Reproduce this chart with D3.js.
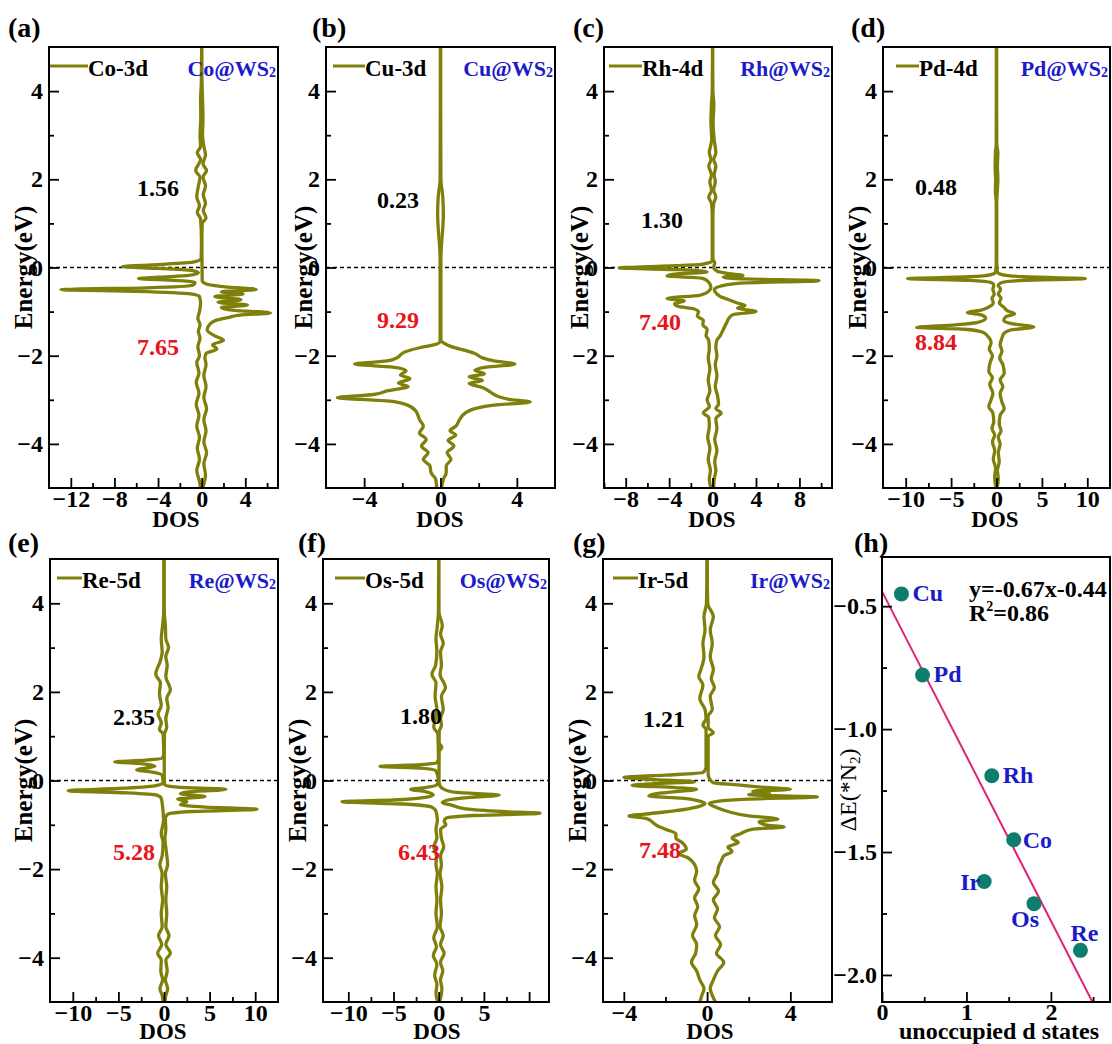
<!DOCTYPE html>
<html><head><meta charset="utf-8">
<script src="https://cdnjs.cloudflare.com/ajax/libs/d3/7.8.5/d3.min.js"></script>
<style>body{margin:0;background:#fff}</style>
</head><body>
<script>
// ---------------- DATA ----------------
const dosMetals   = ['Co','Cu','Rh','Pd','Re','Os','Ir'];
const dosOrbitals = ['Co-3d','Cu-3d','Rh-4d','Pd-4d','Re-5d','Os-5d','Ir-5d'];
const unoccupied  = ['1.56','0.23','1.30','0.48','2.35','1.80','1.21'];
const occupied    = ['7.65','9.29','7.40','8.84','5.28','6.43','7.48'];
const energyTicks = [-4,-2,0,2,4];
const energyMinor = [-3,-1,1,3];

// [Energy, DOS] (spin up drawn right, spin down drawn left)
const coUp = [[5,0],[4.2,0.03],[3.8,0.08],[3.4,0.12],[3.0,0.08],[2.75,0.2],[2.55,0.35],[2.35,0.12],[2.2,0.45],[2.05,0.12],[1.85,0.35],[1.65,0.15],[1.45,0.35],[1.3,0.15],[1.12,0.4],[1.0,0.05],[0.6,0.02],[0.2,0.03],[-0.3,0.05],[-0.38,0.5],[-0.44,2.2],[-0.5,5.0],[-0.55,1.8],[-0.6,3.8],[-0.66,1.2],[-0.73,3.6],[-0.79,1.5],[-0.85,4.2],[-0.91,1.8],[-0.97,3.0],[-1.03,6.3],[-1.08,3.5],[-1.13,2.5],[-1.2,1.3],[-1.3,0.7],[-1.42,0.5],[-1.55,1.2],[-1.65,2.0],[-1.75,1.0],[-1.85,1.4],[-1.95,0.4],[-2.05,0.3],[-2.2,0.4],[-2.45,0.2],[-2.7,0.4],[-2.95,0.2],[-3.2,0.45],[-3.45,0.2],[-3.7,0.4],[-3.95,0.2],[-4.2,0.45],[-4.45,0.2],[-4.7,0.35],[-5,0.1]];
const coDown = [[5,0],[4.2,0.03],[3.8,0.1],[3.4,0.08],[3.0,0.15],[2.75,0.1],[2.6,0.4],[2.45,0.1],[2.2,0.55],[2.05,0.15],[1.85,0.3],[1.6,0.45],[1.4,0.2],[1.25,0.4],[1.1,0.1],[0.6,0.02],[0.2,0.05],[0.12,0.8],[0.06,4.5],[0.02,7.3],[-0.02,4.0],[-0.07,0.8],[-0.12,0.3],[-0.18,1.2],[-0.22,4.0],[-0.25,5.8],[-0.29,2.5],[-0.34,0.6],[-0.4,0.8],[-0.46,5.0],[-0.5,12.9],[-0.54,6.0],[-0.6,1.0],[-0.66,0.2],[-0.8,0.1],[-1.0,0.2],[-1.15,0.35],[-1.3,0.15],[-1.45,0.3],[-1.6,0.15],[-1.8,0.35],[-2.0,0.2],[-2.15,0.45],[-2.4,0.25],[-2.6,0.5],[-2.85,0.25],[-3.1,0.5],[-3.35,0.25],[-3.6,0.45],[-3.85,0.2],[-4.1,0.4],[-4.35,0.2],[-4.6,0.45],[-4.85,0.2],[-5,0.1]];

const cuUp = [[5,0],[2,0.02],[1.6,0.12],[1.2,0.15],[0.9,0.12],[0.5,0.05],[0.2,0.02],[-1.65,0.02],[-1.72,0.2],[-1.8,0.6],[-1.88,1.3],[-1.95,1.8],[-2.05,2.2],[-2.12,2.8],[-2.19,3.9],[-2.26,2.4],[-2.33,1.8],[-2.41,2.3],[-2.48,1.5],[-2.56,2.2],[-2.63,1.5],[-2.72,2.2],[-2.82,2.6],[-2.92,3.0],[-2.99,3.6],[-3.05,4.7],[-3.12,2.8],[-3.2,1.8],[-3.3,1.3],[-3.45,1.0],[-3.6,0.8],[-3.7,0.5],[-3.8,0.8],[-3.92,0.4],[-4.05,0.7],[-4.2,0.35],[-4.35,0.55],[-4.5,0.3],[-4.65,0.3],[-4.8,0.15],[-5,0.05]];
const cuDown = [[5,0],[2,0.02],[1.6,0.12],[1.2,0.15],[0.9,0.12],[0.5,0.05],[0.2,0.02],[-1.68,0.02],[-1.75,0.3],[-1.82,1.1],[-1.92,1.9],[-2.05,2.3],[-2.12,2.8],[-2.19,4.5],[-2.26,2.5],[-2.34,1.8],[-2.44,2.1],[-2.52,1.6],[-2.62,2.2],[-2.7,1.7],[-2.8,2.8],[-2.88,3.5],[-2.95,5.4],[-3.03,2.65],[-3.11,1.8],[-3.25,1.3],[-3.45,1.1],[-3.6,0.9],[-3.75,1.1],[-3.9,0.75],[-4.05,1.0],[-4.2,0.65],[-4.35,0.9],[-4.5,0.55],[-4.65,0.5],[-4.8,0.25],[-5,0.2]];

const rhUp = [[5,0],[4.0,0.03],[3.7,0.12],[3.3,0.05],[2.9,0.15],[2.6,0.3],[2.45,0.1],[2.3,0.3],[2.1,0.15],[1.95,0.25],[1.75,0.1],[1.6,0.3],[1.45,0.1],[1.2,0.03],[0.2,0.03],[0.1,0.2],[0.0,0.1],[-0.08,0.4],[-0.14,1.5],[-0.18,2.8],[-0.22,1.0],[-0.26,3.0],[-0.3,9.8],[-0.35,3.0],[-0.42,0.8],[-0.5,0.15],[-0.6,0.4],[-0.67,0.8],[-0.73,1.5],[-0.8,2.2],[-0.86,3.0],[-0.92,2.3],[-1.0,4.0],[-1.06,2.0],[-1.12,1.6],[-1.25,1.3],[-1.4,1.0],[-1.55,0.7],[-1.65,0.4],[-1.8,0.3],[-2.0,0.4],[-2.2,0.25],[-2.45,0.4],[-2.7,0.25],[-2.9,0.45],[-3.1,0.55],[-3.2,0.3],[-3.3,0.8],[-3.42,0.3],[-3.65,0.4],[-3.9,0.2],[-4.15,0.4],[-4.4,0.2],[-4.6,0.3],[-4.8,0.15],[-5,0.1]];
const rhDown = [[5,0],[4.0,0.03],[3.7,0.1],[3.3,0.15],[2.9,0.08],[2.6,0.3],[2.45,0.15],[2.3,0.35],[2.1,0.1],[1.95,0.25],[1.75,0.1],[1.6,0.35],[1.45,0.1],[1.2,0.03],[0.15,0.03],[0.07,1.0],[0.02,6.0],[-0.01,8.6],[-0.05,3.0],[-0.1,0.5],[-0.15,3.5],[-0.19,4.2],[-0.24,1.0],[-0.32,0.4],[-0.45,0.15],[-0.55,0.4],[-0.63,1.2],[-0.7,4.2],[-0.76,2.6],[-0.82,3.5],[-0.88,3.2],[-0.94,1.7],[-1.0,1.3],[-1.1,1.4],[-1.2,0.85],[-1.3,0.9],[-1.4,0.5],[-1.55,0.6],[-1.65,0.35],[-1.85,0.3],[-2.05,0.4],[-2.3,0.25],[-2.55,0.4],[-2.8,0.25],[-3.0,0.5],[-3.15,0.3],[-3.3,0.85],[-3.4,0.35],[-3.6,0.3],[-3.85,0.45],[-4.1,0.25],[-4.35,0.4],[-4.6,0.2],[-4.8,0.3],[-5,0.15]];

const pdUp = [[5,0],[2.8,0.03],[2.6,0.15],[2.3,0.1],[2.0,0.15],[1.7,0.08],[1.5,0.03],[0.1,0.03],[-0.1,0.1],[-0.16,0.6],[-0.21,3.0],[-0.25,9.8],[-0.29,3.0],[-0.34,0.6],[-0.4,0.2],[-0.5,0.45],[-0.6,0.2],[-0.7,0.5],[-0.8,0.3],[-0.9,0.8],[-0.98,1.2],[-1.05,2.0],[-1.12,1.0],[-1.2,0.8],[-1.28,1.8],[-1.35,4.1],[-1.42,1.5],[-1.5,0.8],[-1.6,0.6],[-1.75,0.4],[-1.9,0.6],[-2.05,0.35],[-2.2,0.7],[-2.4,0.85],[-2.55,0.4],[-2.7,0.7],[-2.85,0.4],[-3.05,0.6],[-3.2,0.85],[-3.35,0.4],[-3.55,0.3],[-3.7,0.5],[-3.85,0.2],[-4.0,0.4],[-4.2,0.2],[-4.4,0.3],[-4.6,0.1],[-4.8,0.2],[-5,0.05]];
const pdDown = [[5,0],[2.8,0.03],[2.6,0.12],[2.3,0.15],[2.0,0.1],[1.7,0.12],[1.5,0.03],[0.1,0.03],[-0.1,0.1],[-0.16,0.6],[-0.21,3.0],[-0.25,9.8],[-0.29,3.0],[-0.34,0.6],[-0.4,0.3],[-0.5,0.4],[-0.6,0.25],[-0.7,0.5],[-0.8,0.35],[-0.9,0.9],[-0.97,1.8],[-1.02,3.2],[-1.08,1.6],[-1.15,1.2],[-1.25,2.2],[-1.3,4.5],[-1.36,8.8],[-1.4,3.5],[-1.47,1.5],[-1.55,1.0],[-1.7,0.6],[-1.85,0.8],[-2.0,0.45],[-2.15,0.7],[-2.35,0.85],[-2.5,0.45],[-2.65,0.75],[-2.85,0.4],[-3.0,0.6],[-3.15,0.85],[-3.3,0.4],[-3.5,0.3],[-3.65,0.5],[-3.8,0.2],[-3.95,0.45],[-4.15,0.2],[-4.35,0.35],[-4.55,0.1],[-4.75,0.2],[-5,0.05]];

const reUp = [[5,0],[3.8,0.03],[3.5,0.15],[3.2,0.2],[3.0,0.5],[2.8,0.2],[2.6,0.35],[2.35,0.2],[2.05,0.7],[1.85,0.3],[1.65,0.45],[1.4,0.2],[1.2,0.3],[1.05,0.05],[0.5,0.03],[0.0,0.03],[-0.1,0.1],[-0.15,1.5],[-0.2,6.8],[-0.26,2.5],[-0.3,1.8],[-0.36,4.5],[-0.42,1.5],[-0.48,2.5],[-0.55,1.8],[-0.6,4.5],[-0.65,10.2],[-0.7,3.0],[-0.76,0.4],[-0.85,0.15],[-1.1,0.2],[-1.3,0.1],[-1.6,0.25],[-1.9,0.4],[-2.1,0.15],[-2.4,0.3],[-2.7,0.2],[-3.0,0.3],[-3.3,0.2],[-3.5,0.55],[-3.7,0.2],[-3.9,0.7],[-4.05,0.2],[-4.3,0.35],[-4.5,0.15],[-4.7,0.4],[-4.85,0.2],[-5,0.1]];
const reDown = [[5,0],[3.8,0.03],[3.5,0.15],[3.2,0.3],[2.9,0.2],[2.7,0.4],[2.4,0.9],[2.2,0.4],[1.95,0.5],[1.7,0.3],[1.5,0.65],[1.3,0.3],[1.15,0.5],[1.05,0.1],[0.6,0.03],[0.5,0.2],[0.46,2.0],[0.42,5.4],[0.38,2.5],[0.32,1.0],[0.28,2.0],[0.24,3.0],[0.18,1.0],[0.12,0.2],[-0.05,0.1],[-0.12,1.0],[-0.18,5.0],[-0.23,10.5],[-0.28,4.0],[-0.33,0.8],[-0.4,0.3],[-0.6,0.15],[-0.9,0.05],[-1.2,0.3],[-1.4,0.1],[-1.7,0.2],[-1.9,0.45],[-2.1,0.2],[-2.4,0.3],[-2.7,0.15],[-3.0,0.3],[-3.3,0.2],[-3.5,0.6],[-3.7,0.25],[-3.9,0.7],[-4.05,0.3],[-4.3,0.35],[-4.5,0.15],[-4.7,0.45],[-4.85,0.2],[-5,0.1]];

const osUp = [[5,0],[3.8,0.03],[3.5,0.4],[3.3,0.2],[3.1,0.5],[2.9,0.2],[2.6,0.3],[2.4,0.15],[2.1,0.75],[1.9,0.3],[1.6,0.5],[1.4,0.2],[1.25,0.3],[1.1,0.05],[0.85,0.05],[0.75,0.35],[0.65,0.05],[0.0,0.03],[-0.1,0.1],[-0.2,0.6],[-0.27,2.0],[-0.33,6.7],[-0.38,3.5],[-0.44,1.0],[-0.5,0.4],[-0.56,1.5],[-0.64,3.0],[-0.7,7.0],[-0.74,11.2],[-0.79,4.0],[-0.85,0.8],[-0.92,0.6],[-1.0,0.8],[-1.1,0.2],[-1.3,0.3],[-1.5,0.55],[-1.7,0.2],[-1.9,0.3],[-2.1,0.15],[-2.4,0.35],[-2.7,0.2],[-3.0,0.3],[-3.3,0.15],[-3.5,0.5],[-3.7,0.2],[-3.9,0.6],[-4.1,0.2],[-4.3,0.45],[-4.5,0.2],[-4.7,0.35],[-5,0.1]];
const osDown = [[5,0],[3.8,0.03],[3.5,0.15],[3.2,0.3],[2.9,0.2],[2.6,0.35],[2.4,0.75],[2.2,0.3],[1.9,0.4],[1.6,0.2],[1.4,0.35],[1.2,0.55],[1.05,0.1],[0.5,0.03],[0.4,0.2],[0.36,2.0],[0.32,6.5],[0.28,2.0],[0.22,0.3],[0.0,0.05],[-0.1,0.2],[-0.16,1.5],[-0.2,3.1],[-0.25,1.5],[-0.32,0.6],[-0.38,1.5],[-0.44,5.0],[-0.48,10.7],[-0.53,4.0],[-0.6,0.8],[-0.7,0.3],[-0.9,0.15],[-1.1,0.3],[-1.3,0.2],[-1.5,0.55],[-1.7,0.25],[-1.9,0.3],[-2.1,0.15],[-2.4,0.3],[-2.7,0.2],[-3.0,0.3],[-3.3,0.15],[-3.55,0.55],[-3.75,0.25],[-3.95,0.6],[-4.15,0.2],[-4.4,0.45],[-4.6,0.2],[-4.8,0.3],[-5,0.1]];

const irUp = [[5,0],[4.0,0.03],[3.7,0.3],[3.4,0.15],[3.1,0.25],[2.8,0.15],[2.5,0.3],[2.3,0.2],[2.1,0.35],[1.9,0.15],[1.6,0.25],[1.45,0.05],[1.2,0.05],[1.08,0.3],[1.0,0.05],[0.3,0.05],[0.15,0.05],[0.05,0.1],[-0.05,0.3],[-0.1,1.5],[-0.15,2.6],[-0.2,4.0],[-0.24,2.2],[-0.28,3.0],[-0.32,2.0],[-0.37,5.3],[-0.42,2.0],[-0.47,0.5],[-0.52,0.1],[-0.6,0.4],[-0.7,1.0],[-0.8,2.0],[-0.87,3.4],[-0.93,2.5],[-1.0,2.8],[-1.05,3.7],[-1.1,2.2],[-1.2,1.6],[-1.3,1.2],[-1.4,1.5],[-1.5,1.0],[-1.6,1.2],[-1.7,0.8],[-1.8,0.7],[-1.95,0.55],[-2.1,0.5],[-2.3,0.3],[-2.5,0.55],[-2.7,0.3],[-2.9,0.5],[-3.1,0.35],[-3.3,0.6],[-3.5,0.4],[-3.7,0.65],[-3.9,0.45],[-4.1,0.8],[-4.3,0.5],[-4.5,0.3],[-4.7,0.15],[-4.85,0.25],[-5,0.4]];
const irDown = [[5,0],[4.0,0.03],[3.7,0.15],[3.4,0.1],[3.1,0.2],[2.8,0.15],[2.5,0.3],[2.35,0.4],[2.15,0.2],[1.85,0.35],[1.6,0.1],[1.4,0.05],[1.25,0.2],[1.15,0.05],[0.3,0.05],[0.18,0.2],[0.12,2.0],[0.07,4.0],[0.02,2.5],[-0.03,0.6],[-0.07,2.5],[-0.11,3.6],[-0.16,1.5],[-0.2,0.5],[-0.25,1.5],[-0.3,2.5],[-0.35,2.8],[-0.4,1.2],[-0.46,0.4],[-0.52,0.1],[-0.6,0.5],[-0.68,1.5],[-0.76,3.0],[-0.8,3.75],[-0.86,2.9],[-0.95,2.6],[-1.02,2.4],[-1.1,2.0],[-1.2,1.5],[-1.3,1.5],[-1.4,1.2],[-1.55,1.0],[-1.65,1.35],[-1.75,0.9],[-1.9,0.6],[-2.05,0.5],[-2.25,0.6],[-2.45,0.4],[-2.65,0.6],[-2.85,0.45],[-3.05,0.6],[-3.25,0.5],[-3.5,0.7],[-3.7,0.5],[-3.9,0.55],[-4.1,0.75],[-4.3,0.5],[-4.5,0.35],[-4.7,0.15],[-4.85,0.25],[-5,0.35]];

// x-axis tick labels per DOS panel
const dosMajorTicks = [[-12,-8,-4,0,4],[-4,0,4],[-8,-4,0,4,8],[-10,-5,0,5,10],[-10,-5,0,5,10],[-10,-5,0,5,10],[-4,0,4]];
const dosMinorTicks = [[-10,-6,-2,2,6],[-2,2],[-10,-6,-2,2,6,10],[-7.5,-2.5,2.5,7.5],[-7.5,-2.5,2.5,7.5],[-7.5,-2.5,2.5,7.5],[-2,2]];
const dosXDomains  = [[-14,7],[-6,6],[-10,11],[-12.5,12.5],[-12.5,12.5],[-12.8,12.2],[-5,6]];

// panel (h)
const scatterMetals = ['Cu','Pd','Rh','Co','Ir','Os','Re'];
const scatterX      = [0.23,0.48,1.30,1.56,1.21,1.80,2.35];
const scatterY      = [-0.45,-0.78,-1.19,-1.45,-1.62,-1.71,-1.90];
const fitSlope = -0.67, fitIntercept = -0.44;
const hYTicks = [-0.5,-1.0,-1.5,-2.0], hYMinor = [-0.75,-1.25,-1.75];
const hXTicks = [0,1,2], hXMinor = [0.5,1.5,2.5];

// ---------------- LAYOUT ----------------
const series = [[coUp,coDown],[cuUp,cuDown],[rhUp,rhDown],[pdUp,pdDown],[reUp,reDown],[osUp,osDown],[irUp,irDown]];
const L = [
 {tag:'(a)', x0:49,  x1:278, y0:47,  y1:488, lab:[8,37],   tX:23,  leg:[1,39],  un:[158,196], oc:[158,355], dosX:176, dosDy:39},
 {tag:'(b)', x0:326, x1:555, y0:47,  y1:488, lab:[312,37], tX:303, leg:[7,39],  un:[398,208], oc:[398,328], dosX:440, dosDy:39},
 {tag:'(c)', x0:604, x1:832, y0:47,  y1:488, lab:[573,37], tX:579, leg:[5,38],  un:[662,228], oc:[660,330], dosX:712, dosDy:39},
 {tag:'(d)', x0:883, x1:1110,y0:47,  y1:488, lab:[851,37], tX:857, leg:[13,36], un:[936,195], oc:[936,350], dosX:995, dosDy:39},
 {tag:'(e)', x0:50,  x1:278, y0:559, y1:1002,lab:[8,552],  tX:23,  leg:[7,32],  un:[134,725], oc:[134,860], dosX:163, dosDy:37},
 {tag:'(f)', x0:323, x1:549, y0:559, y1:1002,lab:[298,552],tX:297, leg:[12,42], un:[421,724], oc:[419,860], dosX:437, dosDy:37, noLabel:[10]},
 {tag:'(g)', x0:603, x1:832, y0:559, y1:1002,lab:[573,552],tX:577, leg:[10,35], un:[664,727], oc:[660,858], dosX:710, dosDy:37}
];
const OLIVE = '#7f7f0c', BLUE = '#1b1bc8', RED = '#e8141c', TEAL = '#0d7d6d', PINK = '#e0237a';
const SERIF = '"Liberation Serif","Times New Roman",serif';

const svg = d3.select('body').append('svg').attr('width',1112).attr('height',1044)
  .style('font-family', SERIF);
const defs = svg.append('defs');

function styleAxis(g, size){
  g.select('.domain').remove();
  g.selectAll('.tick line').attr('stroke','#000').attr('stroke-width',1.8);
  g.selectAll('.tick text').attr('font-family',SERIF).attr('font-weight','bold').attr('font-size',size).attr('fill','#000');
}

L.forEach((p,i)=>{
  const x = d3.scaleLinear().domain(dosXDomains[i]).range([p.x0,p.x1]);
  const y = d3.scaleLinear().domain([-5,5]).range([p.y1,p.y0]);
  const g = svg.append('g');
  const cid = 'clip'+i;
  defs.append('clipPath').attr('id',cid).append('rect')
    .attr('x',p.x0).attr('y',p.y0).attr('width',p.x1-p.x0).attr('height',p.y1-p.y0);

  // Fermi level
  g.append('line').attr('x1',p.x0).attr('x2',p.x1).attr('y1',y(0)).attr('y2',y(0))
    .attr('stroke','#000').attr('stroke-width',1.5).attr('stroke-dasharray','4,3');

  const [up,down] = series[i];
  const lineUp = d3.line().x(d=>x(d[1])).y(d=>y(d[0])).curve(d3.curveMonotoneY);
  const lineDn = d3.line().x(d=>x(-d[1])).y(d=>y(d[0])).curve(d3.curveMonotoneY);
  const cg = g.append('g').attr('clip-path',`url(#${cid})`);
  cg.append('path').datum(down).attr('d',lineDn).attr('fill','none').attr('stroke',OLIVE).attr('stroke-width',3.3).attr('stroke-linejoin','round');
  cg.append('path').datum(up).attr('d',lineUp).attr('fill','none').attr('stroke',OLIVE).attr('stroke-width',3.3).attr('stroke-linejoin','round');

  // axes
  const ay = g.append('g').attr('transform',`translate(${p.x0},0)`)
    .call(d3.axisLeft(y).tickValues(energyTicks).tickSize(-10).tickPadding(6).tickFormat(d3.format('d')));
  styleAxis(ay,24);
  const ay2 = g.append('g').attr('transform',`translate(${p.x0},0)`)
    .call(d3.axisLeft(y).tickValues(energyMinor).tickSize(-5).tickFormat(''));
  styleAxis(ay2,24);
  const hide = p.noLabel || [];
  const ax = g.append('g').attr('transform',`translate(0,${p.y1})`)
    .call(d3.axisBottom(x).tickValues(dosMajorTicks[i]).tickSize(-10).tickPadding(2)
      .tickFormat(d=> hide.includes(d) ? '' : d3.format('d')(d)));
  styleAxis(ax,24);
  const ax2 = g.append('g').attr('transform',`translate(0,${p.y1})`)
    .call(d3.axisBottom(x).tickValues(dosMinorTicks[i]).tickSize(-5).tickFormat(''));
  styleAxis(ax2,24);

  g.append('rect').attr('x',p.x0).attr('y',p.y0).attr('width',p.x1-p.x0).attr('height',p.y1-p.y0)
    .attr('fill','none').attr('stroke','#000').attr('stroke-width',2);

  // titles
  g.append('text').attr('transform',`translate(${p.tX},${(p.y0+p.y1)/2}) rotate(-90)`)
    .attr('text-anchor','middle').attr('dy','0.35em').attr('font-weight','bold').attr('font-size',25).text('Energy(eV)');
  g.append('text').attr('x',p.dosX).attr('y',p.y1+p.dosDy).attr('text-anchor','middle')
    .attr('font-weight','bold').attr('font-size',23).text('DOS');
  g.append('text').attr('x',p.lab[0]).attr('y',p.lab[1]).attr('font-weight','bold').attr('font-size',28).text(p.tag);

  // legend
  g.append('line').attr('x1',p.x0+p.leg[0]).attr('x2',p.x0+p.leg[1]).attr('y1',p.y0+19).attr('y2',p.y0+19)
    .attr('stroke',OLIVE).attr('stroke-width',3);
  g.append('text').attr('x',p.x0+p.leg[1]).attr('y',p.y0+29).attr('font-weight','bold').attr('font-size',23).text(dosOrbitals[i]);
  const sys = g.append('text').attr('x',p.x1-2).attr('y',p.y0+29).attr('text-anchor','end')
    .attr('font-weight','bold').attr('font-size',22).attr('fill',BLUE);
  sys.append('tspan').text(dosMetals[i]+'@WS');
  sys.append('tspan').attr('font-size',14).attr('dy',1).text('2');

  // annotations
  g.append('text').attr('x',p.un[0]).attr('y',p.un[1]).attr('text-anchor','middle').attr('font-weight','bold').attr('font-size',24).text(unoccupied[i]);
  g.append('text').attr('x',p.oc[0]).attr('y',p.oc[1]).attr('text-anchor','middle').attr('font-weight','bold').attr('font-size',24).attr('fill',RED).text(occupied[i]);
});

// ---------------- PANEL (h) ----------------
(function(){
  const p = {x0:882, x1:1110, y0:557, y1:1002};
  const x = d3.scaleLinear().domain([0,2.7]).range([p.x0,p.x1]);
  const y = d3.scaleLinear().domain([-2.11,-0.3]).range([p.y1,p.y0]);
  const g = svg.append('g');
  defs.append('clipPath').attr('id','cliph').append('rect')
    .attr('x',p.x0).attr('y',p.y0).attr('width',p.x1-p.x0).attr('height',p.y1-p.y0);
  const xs = [0, 2.7];
  g.append('g').attr('clip-path','url(#cliph)').append('line')
    .attr('x1',x(xs[0])).attr('y1',y(fitSlope*xs[0]+fitIntercept))
    .attr('x2',x(xs[1])).attr('y2',y(fitSlope*xs[1]+fitIntercept))
    .attr('stroke',PINK).attr('stroke-width',2);

  const pts = scatterMetals.map((m,i)=>({m, x:scatterX[i], y:scatterY[i]}));
  g.selectAll('circle.pt').data(pts).join('circle').attr('class','pt')
    .attr('cx',d=>x(d.x)).attr('cy',d=>y(d.y)).attr('r',7.5).attr('fill',TEAL);
  const place = {Cu:[11,7,'start'],Pd:[11,7,'start'],Rh:[11,7,'start'],Co:[9,8,'start'],Ir:[-4,8,'end'],Os:[-9,23,'middle'],Re:[4,-9,'middle']};
  g.selectAll('text.ptl').data(pts).join('text').attr('class','ptl')
    .attr('x',d=>x(d.x)+place[d.m][0]).attr('y',d=>y(d.y)+place[d.m][1])
    .attr('text-anchor',d=>place[d.m][2]).attr('font-weight','bold').attr('font-size',24).attr('fill',BLUE).text(d=>d.m);

  const ay = g.append('g').attr('transform',`translate(${p.x0},0)`)
    .call(d3.axisLeft(y).tickValues(hYTicks).tickSize(-10).tickPadding(5).tickFormat(d3.format('.1f')));
  styleAxis(ay,24);
  const ay2 = g.append('g').attr('transform',`translate(${p.x0},0)`)
    .call(d3.axisLeft(y).tickValues(hYMinor).tickSize(-5).tickFormat(''));
  styleAxis(ay2,24);
  const ax = g.append('g').attr('transform',`translate(0,${p.y1})`)
    .call(d3.axisBottom(x).tickValues(hXTicks).tickSize(-10).tickPadding(1).tickFormat(d3.format('d')));
  styleAxis(ax,24);
  const ax2 = g.append('g').attr('transform',`translate(0,${p.y1})`)
    .call(d3.axisBottom(x).tickValues(hXMinor).tickSize(-5).tickFormat(''));
  styleAxis(ax2,24);
  g.append('rect').attr('x',p.x0).attr('y',p.y0).attr('width',p.x1-p.x0).attr('height',p.y1-p.y0)
    .attr('fill','none').attr('stroke','#000').attr('stroke-width',2);

  g.append('text').attr('x',969).attr('y',597).attr('font-weight','bold').attr('font-size',24)
    .text('y='+fitSlope.toFixed(2)+'x'+fitIntercept.toFixed(2));
  const r2 = g.append('text').attr('x',969).attr('y',621).attr('font-weight','bold').attr('font-size',24);
  r2.append('tspan').text('R');
  r2.append('tspan').attr('font-size',14).attr('dy',-10).text('2');
  r2.append('tspan').attr('dy',10).text('=0.86');

  const yt = g.append('text').attr('transform',`translate(848,790) rotate(-90)`).attr('text-anchor','middle')
    .attr('dy','0.35em').attr('font-size',24);
  yt.append('tspan').text('ΔE(*N');
  yt.append('tspan').attr('font-size',15).attr('dy',4).text('2');
  yt.append('tspan').attr('dy',-4).text(')');
  g.append('text').attr('x',999).attr('y',1039).attr('text-anchor','middle').attr('font-weight','bold')
    .attr('font-size',24).text('unoccupied d states');
  g.append('text').attr('x',854).attr('y',552).attr('font-weight','bold').attr('font-size',28).text('(h)');
})();
</script>
</body></html>
